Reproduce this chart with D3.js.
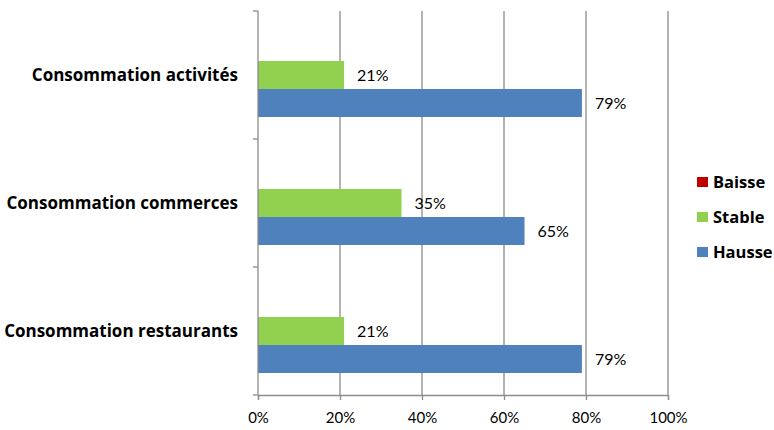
<!DOCTYPE html>
<html><head><meta charset="utf-8">
<script src="https://cdn.jsdelivr.net/npm/d3@7"></script>
<style>body{margin:0;background:#fff;} svg{display:block;}</style>
</head><body>
<script>
const categories = ["Consommation activités", "Consommation commerces", "Consommation restaurants"];
const seriesNames = ["Baisse", "Stable", "Hausse"];
const baisse = [0, 0, 0];
const stable = [21, 35, 21];
const hausse = [79, 65, 79];
const xTicks = [0, 20, 40, 60, 80, 100];
const colors = {Baisse: "#C00000", Stable: "#92D050", Hausse: "#4F81BD"};

const W = 774, H = 430;
const svg = d3.select("body").append("svg").attr("width", W).attr("height", H);
const mLeft = 258, mRight = 668, mTop = 11, mBottom = 395;

const x = d3.scaleLinear().domain([0, 100]).range([mLeft, mRight]);
const y = d3.scaleBand().domain(categories).range([mTop, mBottom]).paddingInner(44/128).paddingOuter(22/128);
const ySub = d3.scaleBand().domain(seriesNames).range([0, y.bandwidth()]);
const grid = "#8c8c8c";

// gridlines
svg.append("g").selectAll("line").data(xTicks.filter(d => d > 0)).join("line")
  .attr("x1", d => x(d)).attr("x2", d => x(d)).attr("y1", mTop).attr("y2", mBottom)
  .attr("stroke", grid).attr("stroke-width", 1.3);

const valuesBySeries = {Baisse: baisse, Stable: stable, Hausse: hausse};
const rows = [];
seriesNames.forEach(s => categories.forEach((c, i) => rows.push({s, c, v: valuesBySeries[s][i]})));

svg.append("g").selectAll("rect").data(rows.filter(d => d.v > 0)).join("rect")
  .attr("x", x(0)).attr("y", d => y(d.c) + ySub(d.s))
  .attr("width", d => x(d.v) - x(0)).attr("height", ySub.bandwidth())
  .attr("fill", d => colors[d.s]);

svg.append("g").selectAll("text").data(rows.filter(d => d.v > 0)).join("text")
  .attr("x", d => x(d.v) + 13).attr("y", d => y(d.c) + ySub(d.s) + ySub.bandwidth()/2 + 6)
  .attr("font-family", "Lato, sans-serif").attr("font-size", 16).attr("fill", "#000")
  .text(d => d.v + "%");

// x axis
const xAxis = svg.append("g").attr("transform", `translate(0,${mBottom})`)
  .call(d3.axisBottom(x).tickValues(xTicks).tickFormat(d => d + "%").tickSize(5).tickPadding(12));
xAxis.select(".domain").attr("stroke", grid).attr("stroke-width", 1.3);
xAxis.selectAll(".tick line").attr("stroke", grid).attr("stroke-width", 1.3);
xAxis.selectAll("text").attr("font-family", "Lato, sans-serif").attr("font-size", 15).attr("fill", "#000");

// y axis
const yTickVals = d3.range(categories.length + 1).map(i => mTop + i * y.step());
const yAxisG = svg.append("g");
yAxisG.append("line").attr("x1", mLeft).attr("x2", mLeft).attr("y1", mTop).attr("y2", mBottom).attr("stroke", grid).attr("stroke-width", 1.3);
yAxisG.selectAll("line.t").data(yTickVals).join("line").attr("class", "t")
  .attr("x1", mLeft - 5).attr("x2", mLeft).attr("y1", d => d).attr("y2", d => d)
  .attr("stroke", grid).attr("stroke-width", 1.3);
yAxisG.selectAll("text").data(categories).join("text")
  .attr("x", mLeft - 20).attr("y", d => y(d) + y.bandwidth()/2 + 6)
  .attr("text-anchor", "end").attr("font-family", "'Open Sans', sans-serif").attr("font-weight", "bold")
  .attr("font-size", 17).attr("fill", "#000").text(d => d);

// legend
const lg = svg.append("g");
seriesNames.forEach((s, i) => {
  const yy = 177 + i * 35;
  lg.append("rect").attr("x", 697).attr("y", yy).attr("width", 11).attr("height", 10).attr("fill", colors[s]);
  lg.append("text").attr("x", 713).attr("y", yy + 11).attr("font-family", "'Open Sans', sans-serif")
    .attr("font-weight", "bold").attr("font-size", 16.5).attr("fill", "#000").text(s);
});
</script>
</body></html>
